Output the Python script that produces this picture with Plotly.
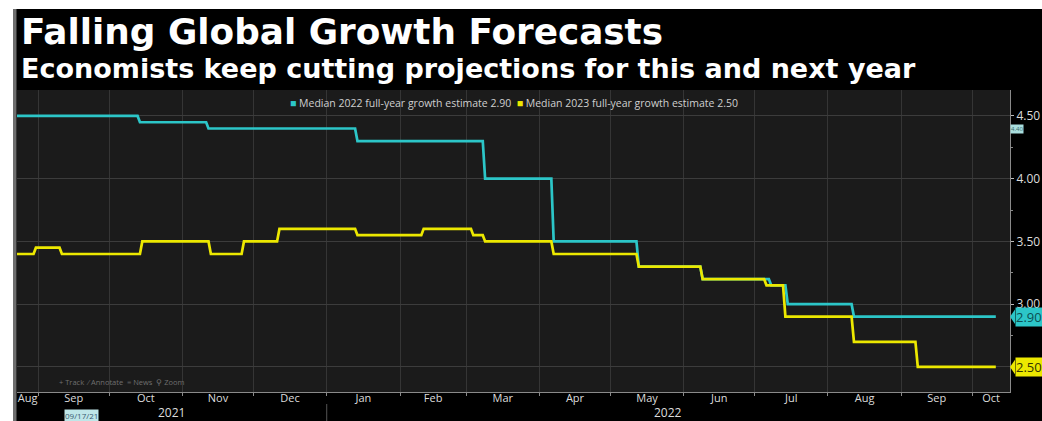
import pandas as pd
import plotly.graph_objects as go

# ---- data: median full-year growth estimates (step changes) ----
cyan_dates = ["2021-08-23", "2021-10-14", "2021-11-12", "2022-01-14", "2022-03-09",
              "2022-04-07", "2022-05-13", "2022-06-09", "2022-07-08", "2022-07-15",
              "2022-08-12"]
cyan_vals = [4.50, 4.45, 4.40, 4.30, 4.00, 3.50, 3.30, 3.20, 3.15, 3.00, 2.90]

yellow_dates = ["2021-08-23", "2021-08-31", "2021-09-11", "2021-10-15", "2021-11-13",
                "2021-11-27", "2021-12-12", "2022-01-14", "2022-02-11", "2022-03-04",
                "2022-03-09", "2022-04-07", "2022-05-13", "2022-06-09", "2022-07-06",
                "2022-07-14", "2022-08-12", "2022-09-08"]
yellow_vals = [3.40, 3.45, 3.40, 3.50, 3.40, 3.50, 3.60, 3.55, 3.60, 3.55, 3.50,
               3.40, 3.30, 3.20, 3.15, 2.90, 2.70, 2.50]

last_date = "2022-10-11"
x_range = ["2021-08-23", "2022-10-17"]
y_range = [2.30, 4.707]
y_ticks = [2.50, 3.00, 3.50, 4.00, 4.50]
y_minor = [2.75, 3.25, 3.75, 4.25]

title = "Falling Global Growth Forecasts"
subtitle = "Economists keep cutting projections for this and next year"
name_2022 = "Median 2022 full-year growth estimate"
name_2023 = "Median 2023 full-year growth estimate"

CYAN = "#2cc6c8"
YELLOW = "#ece800"

# ---- page geometry (pixels) ----
W, H = 1042, 421
L, R, T, B = 17, 1010, 90, 392


def fx(px):
    return (px - L) / (R - L)


def fy(py):
    return (B - py) / (B - T)


def step_points(dates, vals, end):
    """Each level holds until the day before the next change."""
    d = pd.to_datetime(dates)
    e = pd.Timestamp(end)
    xs, ys = [], []
    for i, v in enumerate(vals):
        nxt = d[i + 1] - pd.Timedelta(days=1) if i + 1 < len(d) else e
        xs += [d[i], nxt]
        ys += [v, v]
    return xs, ys


fig = go.Figure()
cx, cy = step_points(cyan_dates, cyan_vals, last_date)
yx, yy = step_points(yellow_dates, yellow_vals, last_date)
fig.add_trace(go.Scatter(x=cx, y=cy, mode="lines", name=name_2022,
                         line=dict(color=CYAN, width=2.7)))
fig.add_trace(go.Scatter(x=yx, y=yy, mode="lines", name=name_2023,
                         line=dict(color=YELLOW, width=2.7)))

# month labels centred on the visible part of each month
r0, r1 = pd.Timestamp(x_range[0]), pd.Timestamp(x_range[1])
month_mid, month_txt = [], []
m = r0.to_period("M").to_timestamp()
while m < r1:
    nm = m + pd.offsets.MonthBegin(1)
    lo, hi = max(m, r0), min(nm, r1)
    month_mid.append(lo + (hi - lo) / 2)
    month_txt.append(m.strftime("%b"))
    m = nm

AX_FONT = dict(family="Open Sans", size=11, color="#dcdcdc")

fig.update_layout(
    width=W, height=H, autosize=False,
    margin=dict(l=L, r=W - R, t=T, b=H - B, pad=0, autoexpand=False),
    paper_bgcolor="#000000",
    plot_bgcolor="#1b1b1b",
    showlegend=False,
    xaxis=dict(
        type="date", range=x_range, automargin=False,
        tickmode="array", tickvals=month_mid, ticktext=month_txt,
        ticks="", showgrid=False, tickfont=AX_FONT, ticklabelstandoff=-4,
        showline=True, linecolor="#8a8a8a", linewidth=1,
        minor=dict(dtick="M1", tick0="2021-09-01", showgrid=True,
                   gridcolor="#353535", gridwidth=1,
                   ticks="outside", ticklen=3, tickcolor="#8a8a8a"),
        zeroline=False, fixedrange=True,
    ),
    yaxis=dict(
        side="right", range=y_range, automargin=False,
        tickmode="array", tickvals=y_ticks, tickformat=".2f",
        ticks="outside", ticklen=3, tickcolor="#bbbbbb",
        gridcolor="#3c3c3c", gridwidth=1,
        showline=True, linecolor="#8a8a8a", linewidth=1,
        minor=dict(tickvals=y_minor, ticks="outside", ticklen=2,
                   tickcolor="#888888", showgrid=False),
        tickfont=dict(family="Open Sans", size=12, color="#dcdcdc"),
        zeroline=False, fixedrange=True,
    ),
)

shapes = [
    # white frame at the top and left of the page
    dict(type="rect", xref="paper", yref="paper", x0=fx(0), x1=fx(W), y0=fy(9), y1=fy(0),
         fillcolor="#ffffff", line=dict(width=0), layer="above"),
    dict(type="rect", xref="paper", yref="paper", x0=fx(0), x1=fx(13), y0=fy(H), y1=fy(0),
         fillcolor="#ffffff", line=dict(width=0), layer="above"),
    dict(type="rect", xref="paper", yref="paper", x0=fx(13), x1=fx(16.5), y0=fy(H), y1=fy(9),
         fillcolor="#6e6e6e", line=dict(width=0), layer="above"),
    # year separator under the axis
    dict(type="line", xref="x", yref="paper", x0="2022-01-01", x1="2022-01-01",
         y0=fy(421), y1=fy(404), line=dict(color="#555555", width=1)),
]

annotations = [
    dict(text=f"<b>{title}</b>", xref="paper", yref="paper", x=fx(19), y=fy(31.5),
         xanchor="left", yanchor="middle", showarrow=False,
         font=dict(family="DejaVu Sans", size=35.8, color="#ffffff")),
    dict(text=f"<b>{subtitle}</b>", xref="paper", yref="paper", x=fx(19), y=fy(68),
         xanchor="left", yanchor="middle", showarrow=False,
         font=dict(family="DejaVu Sans", size=27, color="#ffffff")),
    dict(text=(f"<span style='color:{CYAN}'>■</span> {name_2022} {cyan_vals[-1]:.2f}"
               f"&nbsp;&nbsp;<span style='color:{YELLOW}'>■</span> {name_2023} {yellow_vals[-1]:.2f}"),
         xref="paper", yref="paper", x=fx(514), y=fy(103), xanchor="center", yanchor="middle",
         showarrow=False, font=dict(family="Open Sans", size=10.5, color="#cfcfcf")),
    dict(text="+ Track &nbsp;⁄ Annotate &nbsp;≡ News &nbsp;⚲ Zoom", xref="paper", yref="paper",
         x=fx(57), y=fy(382), xanchor="left", yanchor="middle", showarrow=False,
         font=dict(family="Open Sans", size=7.5, color="#6f6f6f")),
    dict(text="09/17/21", xref="paper", yref="paper", x=fx(81), y=fy(415.5),
         xanchor="center", yanchor="middle", showarrow=False, bgcolor="#bfe6e8",
         borderpad=0, font=dict(family="Open Sans", size=8, color="#3a5a70")),
    dict(text="4.40", xref="paper", yref="y", x=fx(1010), y=4.40,
         xanchor="left", yanchor="middle", showarrow=False, bgcolor="#a9dede",
         borderpad=0, font=dict(family="Open Sans", size=6, color="#3a6a6a")),
]

# year labels centred on the visible span of each year
for yr in sorted({d.year for d in month_mid}):
    lo = max(pd.Timestamp(f"{yr}-01-01"), r0)
    hi = min(pd.Timestamp(f"{yr + 1}-01-01"), r1)
    annotations.append(dict(text=str(yr), xref="x", yref="paper", x=lo + (hi - lo) / 2,
                            y=fy(412.5), xanchor="center", yanchor="middle", showarrow=False,
                            font=dict(family="Open Sans", size=12, color="#dcdcdc")))

# last-value tags on the right axis
for val, fill, txt in [(cyan_vals[-1], CYAN, "#0b4f52"), (yellow_vals[-1], YELLOW, "#333300")]:
    d = 0.058
    shapes.append(dict(type="path", xref="paper", yref="y",
                       path=f"M {fx(1010)},{val} L {fx(1015)},{val + d} L {fx(1015)},{val - d} Z",
                       fillcolor=fill, line=dict(width=0), layer="above"))
    annotations.append(dict(text=f"{val:.2f}", xref="paper", yref="y", x=fx(1014.5), y=val,
                            xanchor="left", yanchor="middle", showarrow=False, bgcolor=fill,
                            borderpad=0, font=dict(family="Open Sans", size=13, color=txt)))

fig.update_layout(shapes=shapes, annotations=annotations)

fig.write_html("out.html", config={"responsive": False, "displayModeBar": False})
